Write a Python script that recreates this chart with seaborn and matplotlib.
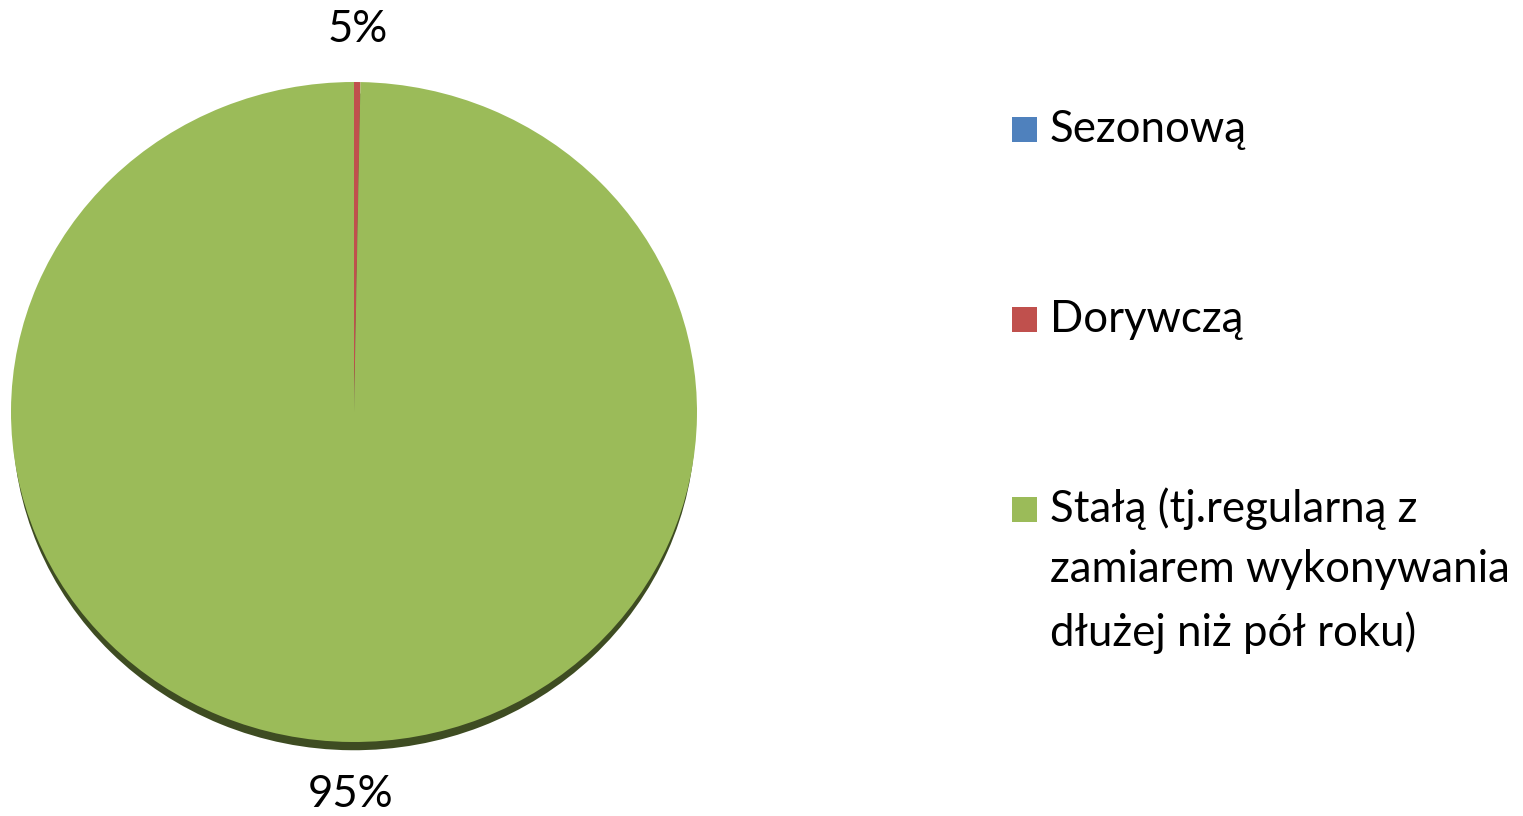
import matplotlib
matplotlib.use("Agg")
import matplotlib.pyplot as plt
import seaborn as sns
from matplotlib.patches import Rectangle

categories = ["Sezonową", "Dorywczą", "Stałą (tj.regularną z\nzamiarem wykonywania\ndłużej niż pół roku)"]
values = [0.0, 0.3, 99.7]
value_labels = ["", "5%", "95%"]
colors = ["#4F81BD", "#C0504D", "#9BBB59"]
shadow_color = "#3E4C22"

sns.set_theme(style="white")
plt.rcParams["font.family"] = ["Lato", "DejaVu Sans"]

W, H = 1523, 816
FS = 31.5
fig = plt.figure(figsize=(W / 100, H / 100), dpi=100)

cx, cy = 354, H - 412  # pie centre in px (from bottom)
rx, ry = 343, 330  # px per unit
xl, yl = 1.03, 1.23
ax = fig.add_axes([(cx - xl * rx) / W, (cy - yl * ry) / H, 2 * xl * rx / W, 2 * yl * ry / H])

# shadow
ax.pie(values, colors=[shadow_color] * 3, startangle=90, counterclock=False,
       center=(0, -0.03), radius=0.995, wedgeprops=dict(linewidth=0))
wedges, texts = ax.pie(values, colors=colors, startangle=90, counterclock=False,
                       labels=value_labels, labeldistance=1.16,
                       wedgeprops=dict(linewidth=0),
                       textprops=dict(fontsize=FS, color="black"))
for t in texts:
    t.set_clip_on(False)
    t.set_ha("center")
    t.set_va("center")
ax.set_aspect("auto")
ax.set_xlim(-xl, xl)
ax.set_ylim(-yl, yl)
ax.axis("off")

# legend
leg_y = [129, 319, 509]
for cat, col, y in zip(categories, colors, leg_y):
    fig.patches.append(Rectangle((1012 / W, (H - y - 12.5) / H), 25 / W, 25 / H,
                                 transform=fig.transFigure, facecolor=col, edgecolor="none"))
    if "\n" in cat:
        fig.text(1050 / W, (H - y + 22) / H, cat, fontsize=FS, va="top", ha="left",
                 linespacing=1.6, color="black")
    else:
        fig.text(1050 / W, (H - y) / H, cat, fontsize=FS, va="center", ha="left", color="black")

fig.savefig("out.png", dpi=100)
